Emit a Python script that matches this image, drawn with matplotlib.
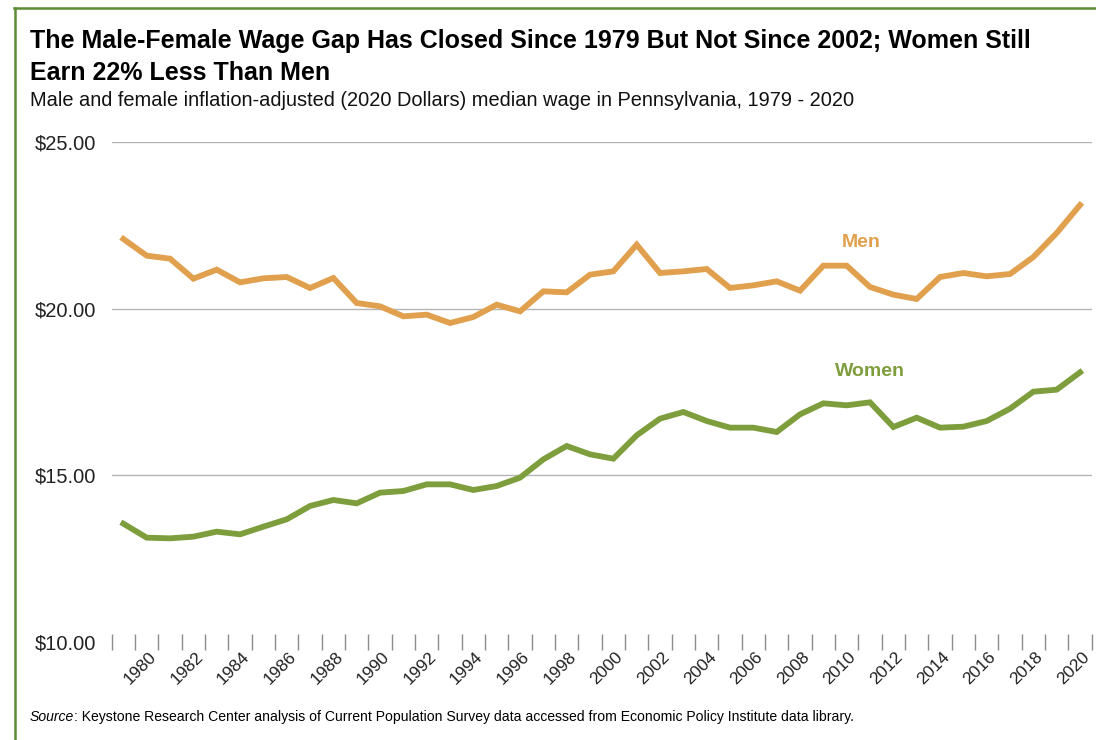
import numpy as np
import matplotlib.pyplot as plt
import matplotlib.transforms as mtrans
from matplotlib.lines import Line2D

years = list(range(1979, 2021))
men = [22.09, 21.59, 21.50, 20.90, 21.17, 20.79, 20.91, 20.95, 20.62, 20.92,
       20.17, 20.07, 19.77, 19.82, 19.57, 19.75, 20.12, 19.92, 20.52, 20.49,
       21.02, 21.12, 21.92, 21.07, 21.12, 21.19, 20.62, 20.70, 20.82, 20.54,
       21.29, 21.29, 20.65, 20.42, 20.29, 20.95, 21.07, 20.97, 21.04, 21.55,
       22.27, 23.11]
women = [13.55, 13.13, 13.11, 13.16, 13.31, 13.23, 13.46, 13.68, 14.08, 14.26,
         14.16, 14.48, 14.53, 14.73, 14.73, 14.56, 14.68, 14.93, 15.48, 15.88,
         15.63, 15.50, 16.20, 16.70, 16.90, 16.63, 16.43, 16.43, 16.30, 16.83,
         17.16, 17.10, 17.19, 16.45, 16.73, 16.43, 16.46, 16.63, 17.00, 17.51,
         17.57, 18.09]
yticks = [10, 15, 20, 25]

men_color = '#E1A04D'
women_color = '#7E9E3D'
frame_color = '#5E8C33'
sans = ['Liberation Sans', 'DejaVu Sans']

fig = plt.figure(figsize=(10.96, 7.4), dpi=100)
ax = fig.add_axes([111.7 / 1096, 98 / 740, 980 / 1096, 500 / 740])

x = np.arange(len(years))
ax.plot(x, men, color=men_color, lw=4.2, solid_joinstyle='miter')
ax.plot(x, women, color=women_color, lw=4.2, solid_joinstyle='miter')

ax.set_xlim(-0.5, len(years) - 0.5)
ax.set_ylim(10, 25)
ax.set_yticks(yticks)
ax.set_yticklabels(['$%.2f' % v for v in yticks], fontsize=14.5, family=sans)
ax.tick_params(axis='y', length=0, pad=11, colors='#222222')
ax.yaxis.grid(True, color='#b5b5b5', lw=1)
ax.yaxis.get_gridlines()[0].set_visible(False)
ax.set_axisbelow(True)

lab_idx = [i for i, y in enumerate(years) if y % 2 == 0]
ax.set_xticks(lab_idx)
ax.set_xticks(np.arange(-0.5, len(years)), minor=True)
ax.tick_params(axis='x', which='major', length=0, pad=3)
ax.tick_params(axis='x', which='minor', length=12, direction='inout',
               color='#8c8c8c', width=1)
ax.set_xticklabels([str(years[i]) for i in lab_idx], rotation=45, ha='right',
                   va='center', rotation_mode='anchor', fontsize=12.5,
                   family=sans, color='#222222')
off = mtrans.ScaledTranslation(7 / 100, -8 / 100, fig.dpi_scale_trans)
for t in ax.get_xticklabels():
    t.set_transform(t.get_transform() + off)

for s in ax.spines.values():
    s.set_visible(False)

ax.text(31.6, 21.98, 'Men', color=men_color, fontsize=14, fontweight='bold',
        family=sans, ha='center', va='center')
ax.text(32.0, 18.11, 'Women', color=women_color, fontsize=14,
        fontweight='bold', family=sans, ha='center', va='center')

fig.text(30 / 1096, 1 - 41 / 740, 'The Male-Female Wage Gap Has Closed Since 1979 But Not Since 2002; Women Still',
         fontsize=18, fontweight='bold', family=sans, va='center')
fig.text(30 / 1096, 1 - 73 / 740, 'Earn 22% Less Than Men',
         fontsize=18, fontweight='bold', family=sans, va='center')
fig.text(30 / 1096, 1 - 101 / 740,
         'Male and female inflation-adjusted (2020 Dollars) median wage in Pennsylvania, 1979 - 2020',
         fontsize=14.4, family=sans, va='center', color='#111111')

src1 = fig.text(30 / 1096, 1 - 717 / 740, 'Source', fontsize=10.1,
                style='italic', family=sans, va='center')
fig.canvas.draw()
bb = src1.get_window_extent()
fig.text(bb.x1 / 1096, 1 - 717 / 740,
         ': Keystone Research Center analysis of Current Population Survey data accessed from Economic Policy Institute data library.',
         fontsize=10.1, family=sans, va='center')

fig.add_artist(Line2D([14.5 / 1096, 14.5 / 1096], [0, 1 - 7.5 / 740],
                      color=frame_color, lw=1.8, transform=fig.transFigure))
fig.add_artist(Line2D([13.6 / 1096, 1], [1 - 7.5 / 740, 1 - 7.5 / 740],
                      color=frame_color, lw=1.8, transform=fig.transFigure))

fig.savefig('out.png', dpi=100)
